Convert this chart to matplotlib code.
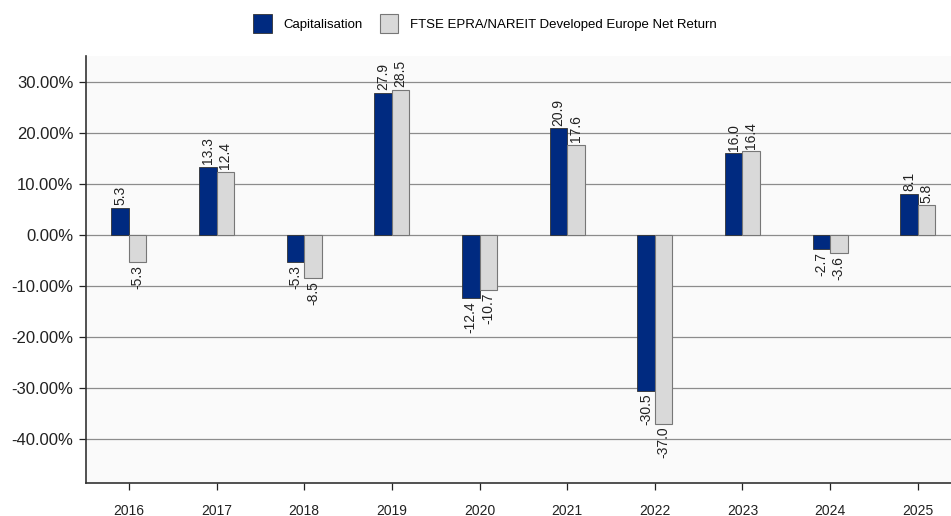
import numpy as np
import matplotlib.pyplot as plt
from matplotlib.ticker import FuncFormatter

plt.rcParams['font.family'] = ['Liberation Sans', 'DejaVu Sans']

years = ['2016', '2017', '2018', '2019', '2020', '2021', '2022', '2023', '2024', '2025']
capitalisation = [5.3, 13.3, -5.3, 27.9, -12.4, 20.9, -30.5, 16.0, -2.7, 8.1]
ftse = [-5.3, 12.4, -8.5, 28.5, -10.7, 17.6, -37.0, 16.4, -3.6, 5.8]

fig = plt.figure(figsize=(9.51, 5.16), dpi=100)
ax = fig.add_axes([86 / 951, 1 - 483 / 516, 1 - 86 / 951, (483 - 56) / 516])
ax.set_facecolor('#fafafa')

x = np.arange(len(years))
w = 0.2
b1 = ax.bar(x - w / 2, capitalisation, w, color='#002a80', edgecolor='#333333', linewidth=0.6,
            label='Capitalisation', zorder=3)
b2 = ax.bar(x + w / 2, ftse, w, color='#d9d9d9', edgecolor='#777777', linewidth=0.8,
            label='FTSE EPRA/NAREIT Developed Europe Net Return', zorder=3)

for bars, vals in ((b1, capitalisation), (b2, ftse)):
    for bar, v in zip(bars, vals):
        cx = bar.get_x() + bar.get_width() / 2
        if v >= 0:
            ax.annotate(f'{v:.1f}', (cx, v), xytext=(0, 2), textcoords='offset points',
                        rotation=90, ha='center', va='bottom', fontsize=10, color='#222222')
        else:
            ax.annotate(f'{v:.1f}', (cx, v), xytext=(0, -2), textcoords='offset points',
                        rotation=90, ha='center', va='top', fontsize=10, color='#222222')

ax.set_ylim(-48.6, 35.1)
ax.set_xlim(-0.49, 9.38)
ax.set_yticks([30, 20, 10, 0, -10, -20, -30, -40])
ax.yaxis.set_major_formatter(FuncFormatter(lambda v, p: f'{v:.2f}%'))
ax.set_xticks(x)
ax.set_xticklabels(years)
ax.grid(axis='y', color='#8c8c8c', linewidth=0.9, zorder=1)
ax.tick_params(axis='y', labelsize=12, colors='#222222', length=5, width=0.9, pad=4)
ax.tick_params(axis='x', labelsize=10, colors='#222222', length=5, width=0.9, pad=10)
for s in ('top', 'right'):
    ax.spines[s].set_visible(False)
for s in ('left', 'bottom'):
    ax.spines[s].set_color('#333333')
    ax.spines[s].set_linewidth(1.2)

fig.legend(handles=[b1, b2], loc='upper center', bbox_to_anchor=(0.51, 0.995), ncol=2, frameon=False,
           fontsize=9.5, handlelength=1.4, handleheight=1.8, columnspacing=1.3, handletextpad=0.9)

fig.savefig('out.png', dpi=100)
